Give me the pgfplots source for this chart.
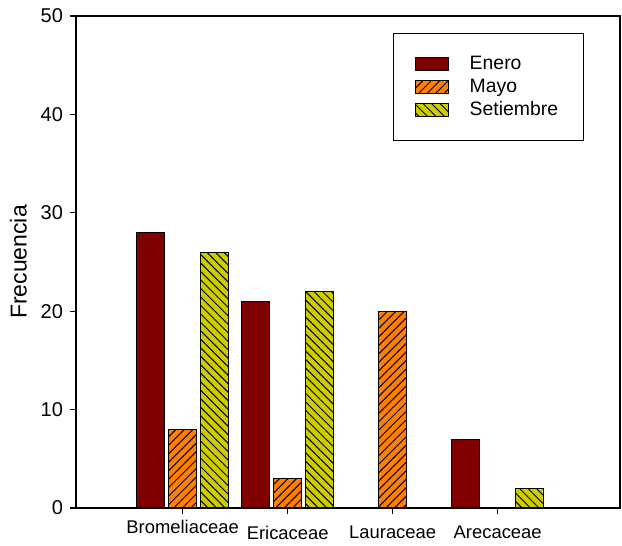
\documentclass[border=0pt]{standalone}
\usepackage{pgfplots}
\pgfplotsset{compat=1.18}
\usepackage{fontspec}
\setmainfont{Liberation Sans}
\usetikzlibrary{patterns.meta}
\definecolor{enero}{RGB}{128,0,0}
\definecolor{mayo}{RGB}{255,128,0}
\definecolor{seti}{RGB}{204,204,0}
\begin{document}
\begin{tikzpicture}
\begin{axis}[
 scale only axis, width=272pt, height=246pt,
 xmin=-1.016, xmax=4.165, ymin=0, ymax=50,
 xtick={0,1,2,3},
 xticklabels={\raisebox{3pt}[\height][\depth]{Bromeliaceae}\hspace{6pt},Ericaceae,Lauraceae,Arecaceae},
 ytick={0,10,20,30,40,50},
 tick pos=left, tick align=outside, major tick length=3pt,
 axis line style={line width=0.6pt}, tick style={line width=0.6pt, black},
 /pgf/number format/assume math mode=true,
 yticklabel style={font=\fontsize{10}{12}\selectfont},
 xticklabel style={font=\fontsize{9.2}{11}\selectfont, yshift=-2.5pt},
 ylabel={Frecuencia}, ylabel style={font=\fontsize{11.5}{13}\selectfont},
 legend style={at={(0.583,0.965)}, anchor=north west, draw=black, line width=0.6pt,
   font=\fontsize{9.7}{11}\selectfont, inner xsep=10.5pt, inner ysep=9pt, row sep=-0.7pt,
   column sep=8.5pt, cells={anchor=west}},
 legend image code/.code={\draw[#1, line width=0.5pt] (0pt,-3.25pt) rectangle (16.5pt,3.25pt);},
]
\addplot[ybar, bar width=0.267, bar shift=-0.305, fill=enero, draw=black, line width=0.5pt]
 coordinates {(0,28) (1,21) (3,7)};
\addplot[ybar, bar width=0.267, bar shift=0, fill=mayo, draw=black, line width=0.5pt,
 postaction={pattern={Lines[angle=45,distance=3pt,line width=0.5pt]}, pattern color=black}]
 coordinates {(0,8) (1,3) (2,20)};
\addplot[ybar, bar width=0.267, bar shift=0.305, fill=seti, draw=black, line width=0.5pt,
 postaction={pattern={Lines[angle=-45,distance=3pt,line width=0.5pt]}, pattern color=black}]
 coordinates {(0,26) (1,22) (3,2)};
\legend{Enero,Mayo,Setiembre}
\coordinate (ll) at (rel axis cs:0,0);
\coordinate (ur) at (rel axis cs:1,1);
\end{axis}
\pgfresetboundingbox
\path ([xshift=-38pt,yshift=-19pt]ll) rectangle ([xshift=1pt,yshift=8pt]ur);
\end{tikzpicture}
\end{document}
